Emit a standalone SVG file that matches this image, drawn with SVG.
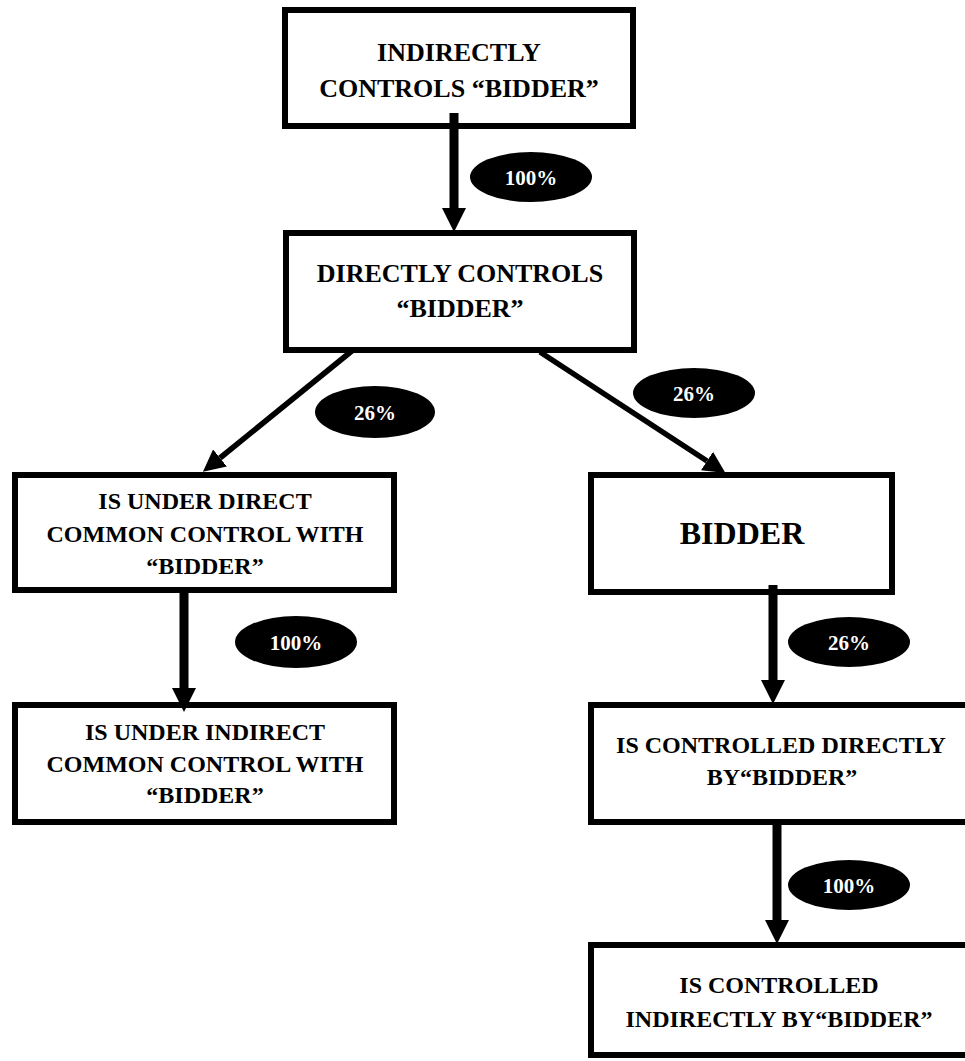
<svg xmlns="http://www.w3.org/2000/svg" width="965" height="1061" viewBox="0 0 965 1061">
<style>
.box{fill:#fff;stroke:#000;stroke-width:6}
.t{font-family:"Liberation Serif","Times New Roman",serif;font-weight:bold;fill:#000;text-anchor:middle}
.big{font-size:26px}
.med{font-size:24px}
.huge{font-size:32px}
.lbl{fill:#000}
.lt{font-family:"Liberation Serif","Times New Roman",serif;font-weight:bold;font-size:21px;fill:#fff;text-anchor:middle}
.thick{stroke:#000;stroke-width:9;fill:none}
.thin{stroke:#000;stroke-width:5.5;fill:none}
</style>
<defs>
<marker id="hv" markerUnits="userSpaceOnUse" viewBox="0 -12 24 24" refX="0" refY="0" markerWidth="24" markerHeight="24" orient="auto">
<path d="M0,-12 L24,0 L0,12 Z" fill="#000"/>
</marker>
<marker id="hd" markerUnits="userSpaceOnUse" viewBox="0 -11 22 22" refX="0" refY="0" markerWidth="22" markerHeight="22" orient="auto">
<path d="M0,-11 L22,0 L0,11 Z" fill="#000"/>
</marker>
</defs>
<g id="n1">
<rect class="box" x="285" y="10" width="348" height="116"/>
<text class="t big" x="459" y="61">INDIRECTLY</text>
<text class="t big" x="459" y="97">CONTROLS “BIDDER”</text>
</g>
<g id="n2">
<rect class="box" x="286" y="233" width="348" height="117"/>
<text class="t big" x="460" y="282">DIRECTLY CONTROLS</text>
<text class="t big" x="460" y="317">“BIDDER”</text>
</g>
<g id="n3">
<rect class="box" x="15" y="475" width="379" height="115"/>
<text class="t med" x="205" y="509">IS UNDER DIRECT</text>
<text class="t med" x="205" y="542">COMMON CONTROL WITH</text>
<text class="t med" x="205" y="574">“BIDDER”</text>
</g>
<g id="n4">
<rect class="box" x="15" y="705" width="379" height="117"/>
<text class="t med" x="205" y="740">IS UNDER INDIRECT</text>
<text class="t med" x="205" y="772">COMMON CONTROL WITH</text>
<text class="t med" x="205" y="803">“BIDDER”</text>
</g>
<g id="n5">
<rect class="box" x="591" y="475" width="301" height="117"/>
<text class="t huge" x="742" y="544">BIDDER</text>
</g>
<g id="n6">
<rect class="box" x="591" y="705" width="390" height="117"/>
<text class="t med" x="781" y="753">IS CONTROLLED DIRECTLY</text>
<text class="t med" x="782" y="785">BY“BIDDER”</text>
</g>
<g id="n7">
<rect class="box" x="591" y="945" width="390" height="110"/>
<text class="t med" x="779" y="993">IS CONTROLLED</text>
<text class="t med" x="779" y="1027">INDIRECTLY BY“BIDDER”</text>
</g>
<g id="connectors">
<line class="thick" x1="454" y1="113" x2="454" y2="208" marker-end="url(#hv)"/>
<line class="thin" x1="353" y1="350" x2="220" y2="458" marker-end="url(#hd)"/>
<line class="thin" x1="540" y1="352" x2="707" y2="461" marker-end="url(#hd)"/>
<line class="thick" x1="184" y1="590" x2="184" y2="688" marker-end="url(#hv)"/>
<line class="thick" x1="773" y1="585" x2="773" y2="680" marker-end="url(#hv)"/>
<line class="thick" x1="777" y1="822" x2="777" y2="920" marker-end="url(#hv)"/>
</g>
<g id="labels">
<g id="l1"><ellipse class="lbl" cx="531" cy="177" rx="61" ry="25"/><text class="lt" x="531" y="185">100%</text></g>
<g id="l2"><ellipse class="lbl" cx="375" cy="412" rx="60" ry="26"/><text class="lt" x="375" y="420">26%</text></g>
<g id="l3"><ellipse class="lbl" cx="694" cy="393" rx="61" ry="25"/><text class="lt" x="694" y="401">26%</text></g>
<g id="l4"><ellipse class="lbl" cx="296" cy="642" rx="61" ry="26"/><text class="lt" x="296" y="650">100%</text></g>
<g id="l5"><ellipse class="lbl" cx="849" cy="642" rx="61" ry="25"/><text class="lt" x="849" y="650">26%</text></g>
<g id="l6"><ellipse class="lbl" cx="849" cy="885" rx="61" ry="25"/><text class="lt" x="849" y="893">100%</text></g>
</g>
</svg>
